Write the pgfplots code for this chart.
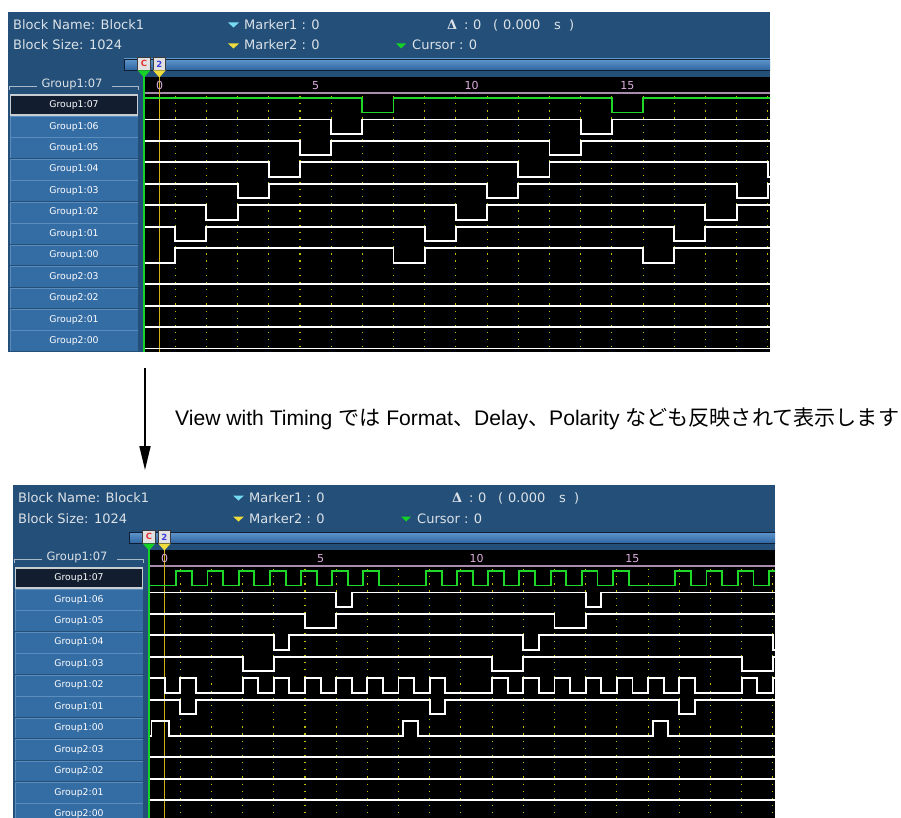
\documentclass[border=0pt]{standalone}
\usepackage{pgfplots}
\pgfplotsset{compat=1.18}
\usepackage{pgfplotstable}
\usetikzlibrary{arrows.meta}
\usepackage{fontspec}
\setmainfont{DejaVu Sans}
\newfontfamily\lib{Liberation Sans}
\newfontfamily\jp{Noto Sans CJK JP}
\newfontfamily\djs{DejaVu Serif}

\definecolor{panelbg}{RGB}{35,79,120}
\definecolor{hdrtext}{RGB}{220,226,232}
\definecolor{mcyan}{RGB}{120,220,240}
\definecolor{myellow}{RGB}{240,220,60}
\definecolor{mgreen}{RGB}{20,210,40}
\definecolor{scrollA}{RGB}{95,150,205}
\definecolor{scrollB}{RGB}{45,100,160}
\definecolor{scrolledge}{RGB}{15,30,50}
\definecolor{rulerc}{RGB}{170,140,175}
\definecolor{rulertxt}{RGB}{225,175,225}
\definecolor{curyellow}{RGB}{210,175,20}
\definecolor{gridy}{RGB}{190,190,0}
\definecolor{grpline}{RGB}{170,185,200}
\definecolor{btn}{RGB}{52,108,164}
\definecolor{btnhi}{RGB}{90,140,190}
\definecolor{btnsel}{RGB}{18,30,48}
\definecolor{btnselb}{RGB}{200,205,210}
\definecolor{tagfill}{RGB}{225,225,225}
\definecolor{tagedge}{RGB}{60,60,60}
\definecolor{tagred}{RGB}{230,50,50}
\definecolor{tagblue}{RGB}{60,60,220}
\definecolor{trgreen}{RGB}{30,215,40}

% ---------- top panel signals (t = sample time, v = level) ----------
\pgfplotstableread{
t v
-0.5 1
6.5 0
7.5 1
14.5 0
15.5 1
19.7 1
}\ta
\pgfplotstableread{
t v
-0.5 1
5.5 0
6.5 1
13.5 0
14.5 1
19.7 1
}\tb
\pgfplotstableread{
t v
-0.5 1
4.5 0
5.5 1
12.5 0
13.5 1
19.7 1
}\tc
\pgfplotstableread{
t v
-0.5 1
3.5 0
4.5 1
11.5 0
12.5 1
19.5 0
19.7 0
}\td
\pgfplotstableread{
t v
-0.5 1
2.5 0
3.5 1
10.5 0
11.5 1
18.5 0
19.5 1
19.7 1
}\te
\pgfplotstableread{
t v
-0.5 1
1.5 0
2.5 1
9.5 0
10.5 1
17.5 0
18.5 1
19.7 1
}\tf
\pgfplotstableread{
t v
-0.5 1
0.5 0
1.5 1
8.5 0
9.5 1
16.5 0
17.5 1
19.7 1
}\tg
\pgfplotstableread{
t v
-0.5 0
0.5 1
7.5 0
8.5 1
15.5 0
16.5 1
19.7 1
}\th
\pgfplotstableread{
t v
-0.5 0
19.7 0
}\gz
% ---------- bottom panel signals ----------
\pgfplotstableread{
t v
-0.5 0
0.375 1
0.88 0
1.375 1
1.88 0
2.375 1
2.88 0
3.375 1
3.88 0
4.375 1
4.88 0
5.375 1
5.88 0
6.375 1
6.88 0
8.375 1
8.88 0
9.375 1
9.88 0
10.375 1
10.88 0
11.375 1
11.88 0
12.375 1
12.88 0
13.375 1
13.88 0
14.375 1
14.88 0
16.375 1
16.88 0
17.375 1
17.88 0
18.375 1
18.88 0
19.375 1
19.7 1
}\ba
\pgfplotstableread{
t v
-0.5 1
5.5 0
6.0 1
13.5 0
14.0 1
19.7 1
}\bb
\pgfplotstableread{
t v
-0.5 1
4.5 0
5.5 1
12.5 0
13.5 1
19.7 1
}\bc
\pgfplotstableread{
t v
-0.5 1
3.5 0
4.0 1
11.5 0
12.0 1
19.5 0
19.7 0
}\bd
\pgfplotstableread{
t v
-0.5 1
2.5 0
3.5 1
10.5 0
11.5 1
18.5 0
19.5 1
19.7 1
}\be
\pgfplotstableread{
t v
-0.5 1
0 0
0.5 1
1 0
2.5 1
3 0
3.5 1
4 0
4.5 1
5 0
5.5 1
6 0
6.5 1
7 0
7.5 1
8 0
8.5 1
9 0
10.5 1
11 0
11.5 1
12 0
12.5 1
13 0
13.5 1
14 0
14.5 1
15 0
15.5 1
16 0
16.5 1
17 0
18.5 1
19 0
19.5 1
19.7 1
}\bf
\pgfplotstableread{
t v
-0.5 1
0.5 0
1.0 1
8.5 0
9.0 1
16.5 0
17.0 1
19.7 1
}\bg
\pgfplotstableread{
t v
-0.5 0
-0.42 1
0.13 0
7.65 1
8.13 0
15.65 1
16.15 0
19.7 0
}\bh

\tikzset{hdr/.style={anchor=base west, inner sep=0pt, text=hdrtext, font=\fontsize{13}{14}\selectfont}}

\newcommand{\panel}{%
 \fill[panelbg] (8,12) rectangle (770,352);
 \node[hdr] at (13,29.5) {Block Name: Block1};
 \node[hdr] at (13,50) {Block Size: 1024};
 \fill[mcyan] (228,22.5) -- (239,22.5) -- (233.5,27.5) -- cycle;
 \node[hdr] at (244,29.5) {Marker1 : 0};
 \fill[myellow] (228,43.5) -- (239,43.5) -- (233.5,48.5) -- cycle;
 \node[hdr] at (244,50) {Marker2 : 0};
 \node[hdr] at (447,29.5) {{\djs\bfseries Δ}};
 \node[hdr] at (464,29.5) {:};
 \node[hdr] at (473,29.5) {0};
 \node[hdr] at (493,29.5) {(};
 \node[hdr] at (503,29.5) {0.000};
 \node[hdr] at (554,29.5) {s};
 \node[hdr] at (569,29.5) {)};
 \fill[mgreen] (396,43.5) -- (406,43.5) -- (401,48.5) -- cycle;
 \node[hdr] at (412,50) {Cursor : 0};
 \shade[top color=scrollA, bottom color=scrollB] (124,59) rectangle (770,70.5);
 \draw[scrolledge, line width=0.9pt] (770,59) -- (124,59) -- (124,70.5) -- (770,70.5);
 \fill[black] (144,77) rectangle (770,352);
 \draw[rulerc, line width=1.3pt] (145,93) -- (770,93);
 \draw[curyellow, line width=1pt] (159.5,77) -- (159.5,352);
 \draw[grpline, line width=0.8pt] (9.5,90) -- (9.5,86) -- (37,86) (112,86) -- (138,86) -- (138,90);
 \node[font=\fontsize{11.5}{13}\selectfont, text=hdrtext] at (72,84) {Group1:07};
 \foreach \lab [count=\r from 0] in {Group1:07,Group1:06,Group1:05,Group1:04,Group1:03,Group1:02,Group1:01,Group1:00,Group2:03,Group2:02,Group2:01,Group2:00}{%
   \pgfmathsetmacro\yy{94.5+21.45*\r}
   \ifnum\r=0
     \filldraw[fill=btnsel, draw=btnselb, line width=1.3pt] (10.6,\yy+0.6) rectangle (137.4,\yy+20.4);
   \else
     \fill[btn] (10,\yy) rectangle (138,\yy+20.8);
     \draw[btnhi, line width=0.8pt] (10.4,\yy+20.8) -- (10.4,\yy+0.4) -- (138,\yy+0.4);
   \fi
   \node[font=\fontsize{9.3}{10}\selectfont, text=white] at (74,\yy+10.6) {\lab};
 }%
}

\newcommand{\markers}{%
 \draw[mgreen, line width=2.2pt] (144,70.5) -- (144,352);
 \filldraw[fill=tagfill, draw=tagedge, line width=0.7pt] (137.8,57.3) rectangle (150.2,70.5);
 \node[font=\bfseries\fontsize{8.5}{9}\selectfont, text=tagred] at (144,63.9) {C};
 \fill[mgreen] (137.8,70.5) -- (150.2,70.5) -- (144,77.5) -- cycle;
 \filldraw[fill=tagfill, draw=tagedge, line width=0.7pt] (153.2,57.3) rectangle (165.6,70.5);
 \node[font=\bfseries\fontsize{8.5}{9}\selectfont, text=tagblue] at (159.4,63.9) {2};
 \fill[myellow] (153.2,70.5) -- (165.6,70.5) -- (159.4,77.5) -- cycle;
}

\newcommand{\wave}[3]{\addplot[const plot, #1, line width=1.9pt] table[x=t, y expr={98+21.45*#2+14.5*(1-\thisrow{v})}] {#3};}

\newcommand{\axisdeco}{%
 \pgfplotsinvokeforeach{0,...,19}{\draw[gridy, line width=1.1pt, dash pattern=on 1.2pt off 5.95pt] (axis cs:##1.5,96) -- (axis cs:##1.5,352);}
 \node[text=rulertxt, font=\fontsize{11}{12}\selectfont] at (axis cs:0,85.5) {0};
 \node[text=rulertxt, font=\fontsize{11}{12}\selectfont] at (axis cs:5,85.5) {5};
 \node[text=rulertxt, font=\fontsize{11}{12}\selectfont] at (axis cs:10,85.5) {10};
 \node[text=rulertxt, font=\fontsize{11}{12}\selectfont] at (axis cs:15,85.5) {15};
}

\pgfplotsset{wavax/.style={anchor=north west, scale only axis, width=626pt, height=275pt,
  xmin=-0.5, xmax=19.57, ymin=77, ymax=352, y dir=reverse, axis lines=none}}

\begin{document}
\begin{tikzpicture}
\useasboundingbox (0,0) rectangle (901pt,-818pt);
\clip (0,0) rectangle (901pt,-818pt);
\fill[white] (0,0) rectangle (901pt,-818pt);
\begin{scope}[x=1pt,y=-1pt]
 \panel
\end{scope}
\begin{scope}[x=1pt,y=-1pt,shift={(5pt,-473pt)}]
 \panel
\end{scope}

\begin{axis}[wavax, at={(144pt,-77pt)}]
 \axisdeco
 \wave{trgreen}{0}{\ta}
 \wave{white}{1}{\tb}
 \wave{white}{2}{\tc}
 \wave{white}{3}{\td}
 \wave{white}{4}{\te}
 \wave{white}{5}{\tf}
 \wave{white}{6}{\tg}
 \wave{white}{7}{\th}
 \wave{white}{8}{\gz}
 \wave{white}{9}{\gz}
 \wave{white}{10}{\gz}
 \wave{white}{11}{\gz}
\end{axis}

\begin{axis}[wavax, at={(149pt,-550pt)}]
 \axisdeco
 \wave{trgreen}{0}{\ba}
 \wave{white}{1}{\bb}
 \wave{white}{2}{\bc}
 \wave{white}{3}{\bd}
 \wave{white}{4}{\be}
 \wave{white}{5}{\bf}
 \wave{white}{6}{\bg}
 \wave{white}{7}{\bh}
 \wave{white}{8}{\gz}
 \wave{white}{9}{\gz}
 \wave{white}{10}{\gz}
 \wave{white}{11}{\gz}
\end{axis}

\begin{scope}[x=1pt,y=-1pt]
 \markers
\end{scope}
\begin{scope}[x=1pt,y=-1pt,shift={(5pt,-473pt)}]
 \markers
\end{scope}

\begin{scope}[x=1pt,y=-1pt]
 \draw[line width=1.7pt, -{Triangle[length=24pt,width=11pt]}] (145,368) -- (145,470);
 \node[anchor=base west, inner sep=0pt] at (175,425) {\fontsize{21.1}{24}\selectfont\lib View with Timing {\jp では} Format{\jp 、}Delay{\jp 、}Polarity {\jp なども反映されて表示します}};
\end{scope}
\end{tikzpicture}
\end{document}
